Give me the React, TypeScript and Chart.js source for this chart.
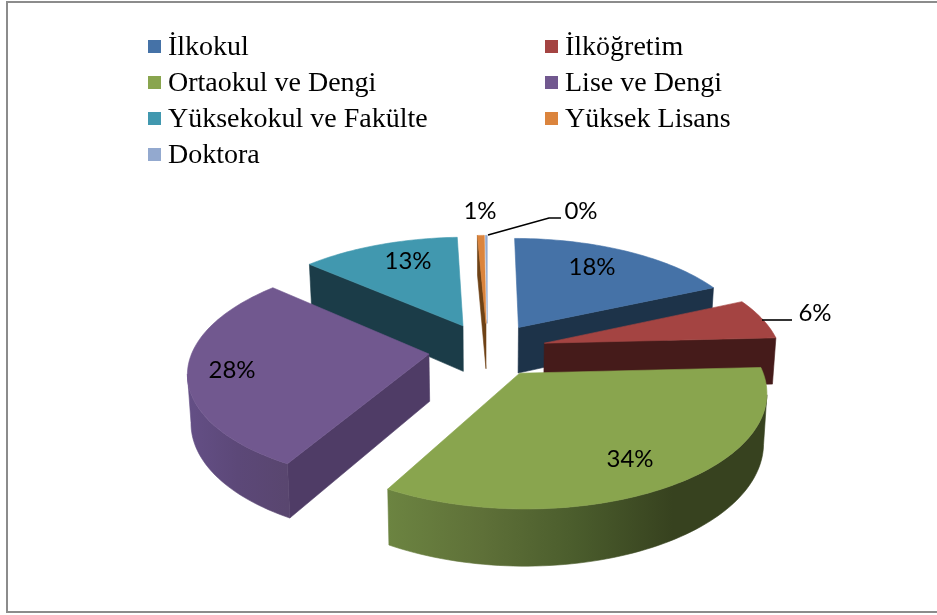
import React, { useEffect, useRef } from "react";
import { Chart, registerables } from "chart.js";

Chart.register(...registerables);

const categories = ["İlkokul", "İlköğretim", "Ortaokul ve Dengi", "Lise ve Dengi", "Yüksekokul ve Fakülte", "Yüksek Lisans", "Doktora"];
const shares = [18.2, 6, 33.9, 28.49, 12.71, 0.55, 0.15];

const topColors = ["#4572A7", "#A44442", "#89A54E", "#71588F", "#4198AF", "#DB843D", "#93A9CF"];
const sideColors = ["#1D3349", "#451B1A", "#37421F", "#4F3C66", "#1B3C48", "#6E4216", "#4A5568"];
const rimStops: string[][] = [
  ["#1D3349", "#1D3349"],
  ["#451B1A", "#451B1A"],
  ["#6C8441", "#5E7038", "#4A5C2C", "#37421F", "#37421F"],
  ["#644F86", "#5C4878", "#59466F"],
  ["#1B3C48", "#1B3C48"],
  ["#6E4216", "#6E4216"],
  ["#4A5568", "#4A5568"],
];
const showStartSide = [false, false, false, true, true, true, false];
const showEndSide = [true, true, false, false, false, false, false];

// Layout of the tilted pie
const RADIUS = 236;
const EXPLODE = 0.25;
const FLATTEN = 0.458;
const PERSPECTIVE = 0.147;
const DEPTH = 47;
const BASE_SHRINK = 0.988;

const legendColumns = [148, 545];
const legendRows = [47, 83, 119, 155];
const labelPos: [number, number][] = [[592, 267], [815, 313], [630, 459], [232, 370], [408, 261], [480, 211], [581, 211]];
const leaders: ([number, number][] | null)[] = [null, [[762, 320], [792, 320]], null, null, null, null, [[488, 235], [549, 218], [561, 218]]];

type Pt = [number, number];

const pie3d = {
  id: "pie3d",
  beforeDatasetsDraw(chart: any) {
    const ctx: CanvasRenderingContext2D = chart.ctx;
    const arcs: any[] = chart.getDatasetMeta(0).data;

    const top = (el: any, u: number, v: number): Pt => {
      const s = 1 / (1 - PERSPECTIVE * v);
      return [el.x + el.outerRadius * u * s, el.y + el.outerRadius * FLATTEN * v * s];
    };
    const base = (el: any, u: number, v: number): Pt => {
      const s = 1 / (1 - PERSPECTIVE * v);
      return [el.x + el.outerRadius * u * s * BASE_SHRINK, el.y + el.outerRadius * FLATTEN * v * s + DEPTH * s];
    };
    const fillPoly = (pts: Pt[], style: any) => {
      ctx.beginPath();
      pts.forEach((p, i) => (i ? ctx.lineTo(p[0], p[1]) : ctx.moveTo(p[0], p[1])));
      ctx.closePath();
      ctx.fillStyle = style;
      ctx.fill();
      ctx.strokeStyle = style;
      ctx.lineWidth = 0.6;
      ctx.stroke();
    };

    const order = arcs
      .map((el, i) => ({ el, i, key: Math.sin((el.startAngle + el.endAngle) / 2) }))
      .sort((a, b) => a.key - b.key);

    ctx.save();
    for (const { el, i } of order) {
      const mid = (el.startAngle + el.endAngle) / 2;
      const ax = EXPLODE * Math.cos(mid);
      const ay = EXPLODE * Math.sin(mid);
      const n = Math.max(4, Math.ceil(((el.endAngle - el.startAngle) / Math.PI) * 120));
      const rim: [number, number][] = [];
      for (let k = 0; k <= n; k++) {
        const a = el.startAngle + ((el.endAngle - el.startAngle) * k) / n;
        rim.push([ax + Math.cos(a), ay + Math.sin(a)]);
      }
      const first = rim[0];
      const last = rim[rim.length - 1];
      const topRim = rim.map((r) => top(el, r[0], r[1]));
      // the outer wall shows only where the rim runs right to left on screen
      const front = rim.filter(
        (_, k) =>
          (k < n && topRim[k + 1][0] < topRim[k][0]) || (k > 0 && topRim[k][0] < topRim[k - 1][0])
      );

      if (showStartSide[i]) {
        fillPoly([top(el, ax, ay), top(el, first[0], first[1]), base(el, first[0], first[1]), base(el, ax, ay)], sideColors[i]);
      }
      if (showEndSide[i]) {
        fillPoly([top(el, ax, ay), top(el, last[0], last[1]), base(el, last[0], last[1]), base(el, ax, ay)], sideColors[i]);
      }
      if (front.length > 1) {
        const frontTop = front.map((r) => top(el, r[0], r[1]));
        const frontBase = front.map((r) => base(el, r[0], r[1]));
        const xs = frontTop.map((p) => p[0]);
        const grad = ctx.createLinearGradient(Math.min(...xs), 0, Math.max(...xs), 0);
        rimStops[i].forEach((c, k) => grad.addColorStop(k / (rimStops[i].length - 1), c));
        fillPoly([...frontTop, ...frontBase.slice().reverse()], grad);
      }
      fillPoly([top(el, ax, ay), ...topRim], el.options.backgroundColor);
    }
    ctx.restore();
    return false;
  },
  afterDraw(chart: any) {
    const ctx: CanvasRenderingContext2D = chart.ctx;
    const values: number[] = chart.data.datasets[0].data;
    const total = values.reduce((a, b) => a + b, 0);
    ctx.save();

    // frame
    ctx.fillStyle = "#8C8C8C";
    ctx.fillRect(6, 1, 931, 2);
    ctx.fillRect(6, 1, 2, 612);
    ctx.fillRect(6, 611, 931, 2);

    // leader lines
    ctx.strokeStyle = "#000000";
    ctx.lineWidth = 1.6;
    leaders.forEach((path) => {
      if (!path) return;
      ctx.beginPath();
      path.forEach((p, i) => (i ? ctx.lineTo(p[0], p[1]) : ctx.moveTo(p[0], p[1])));
      ctx.stroke();
    });

    // value labels
    ctx.fillStyle = "#000000";
    ctx.font = '24px Lato';
    ctx.textAlign = "center";
    ctx.textBaseline = "middle";
    values.forEach((v, i) => {
      ctx.fillText(`${Math.round((v / total) * 100)}%`, labelPos[i][0], labelPos[i][1]);
    });

    // legend
    ctx.textAlign = "left";
    ctx.font = '28px "Liberation Serif"';
    (chart.data.labels as string[]).forEach((label, i) => {
      const x = legendColumns[i % 2];
      const y = legendRows[Math.floor(i / 2)];
      ctx.fillStyle = topColors[i];
      ctx.fillRect(x, y - 7, 13, 13);
      ctx.fillStyle = "#000000";
      ctx.fillText(label, x + 20, y + 1);
    });
    ctx.restore();
  },
};

export default function App() {
  const ref = useRef<HTMLCanvasElement>(null);
  useEffect(() => {
    const chart = new Chart(ref.current!, {
      type: "pie",
      data: {
        labels: categories,
        datasets: [{ data: shares, backgroundColor: topColors, borderWidth: 0 }],
      },
      options: {
        animation: false,
        responsive: false,
        radius: RADIUS,
        layout: { padding: { left: 38, top: 84, right: 0, bottom: 0 } },
        plugins: { legend: { display: false }, tooltip: { enabled: false } },
      } as any,
      plugins: [pie3d as any],
    });
    return () => chart.destroy();
  }, []);
  return (
    <canvas
      ref={ref}
      width={937}
      height={615}
      style={{ position: "fixed", left: 0, top: 0, width: 937, height: 615, display: "block", background: "#fff" }}
    />
  );
}
